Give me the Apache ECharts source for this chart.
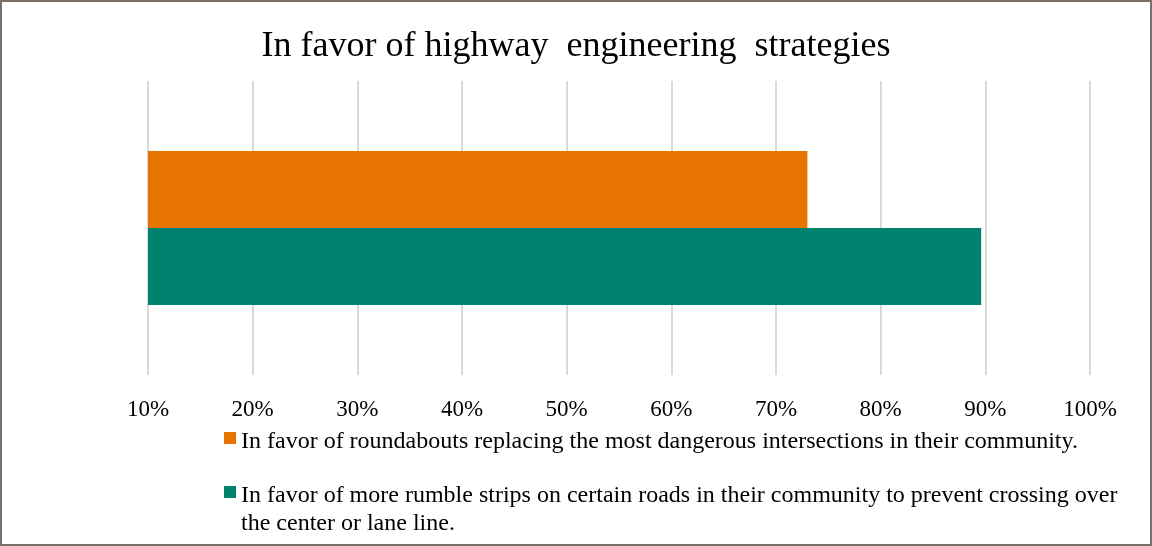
<!DOCTYPE html>
<html>
<head>
<meta charset="utf-8">
<script src="https://cdn.jsdelivr.net/npm/echarts@6/dist/echarts.min.js"></script>
<style>
body{margin:0;padding:0;background:#fff;}
#main{width:1152px;height:546px;box-sizing:border-box;border:2px solid #7b7067;}
</style>
</head>
<body>
<div id="main"></div>
<script>
var title = 'In favor of highway  engineering  strategies';
var categories = [''];
var seriesNames = [
	'In favor of roundabouts replacing the most dangerous intersections in their community.',
	'In favor of more rumble strips on certain roads in their community to prevent crossing over the center or lane line.'
];
var roundabouts = [73];
var rumbleStrips = [89.6];
var ticks = [10, 100, 10]; // min, max, step

var font = 'Liberation Serif';
// legend text: blank first line + two text lines, so the marker sits beside line one
var legendRich = {
	b: {fontFamily: font, fontSize: 24, lineHeight: 36},
	t: {fontFamily: font, fontSize: 24, lineHeight: 28, color: '#000'}
};
function legendText(name) {
	var lines = name.replace(' crossing over ', ' crossing over\n').split('\n');
	if (lines.length < 2) lines.push(' ');
	return '{b| }\n{t|' + lines[0] + '}\n{t|' + lines[1] + '}';
}

var el = echarts.init(document.getElementById('main'));
var elData = {
	backgroundColor: '#fff',
	title: {
		text: title,
		left: 'center',
		top: 22,
		textStyle: {fontFamily: font, fontSize: 36, fontWeight: 'normal', color: '#000'}
	},
	legend: [
		{
			data: [seriesNames[0]],
			left: 222, top: 396, padding: 0,
			itemWidth: 12, itemHeight: 12,
			icon: 'rect',
			formatter: legendText,
			textStyle: {fontFamily: font, fontSize: 24, color: '#000', rich: legendRich}
		},
		{
			data: [seriesNames[1]],
			left: 222, top: 450, padding: 0,
			itemWidth: 12, itemHeight: 12,
			icon: 'rect',
			formatter: legendText,
			textStyle: {fontFamily: font, fontSize: 24, color: '#000', rich: legendRich}
		}
	],
	grid: {left: 146, right: 60, top: 79, bottom: 169, containLabel: false},
	xAxis: {
		type: 'value',
		min: ticks[0], max: ticks[1], interval: ticks[2],
		axisLine: {show: false},
		axisTick: {show: false},
		axisLabel: {formatter: '{value}%', fontFamily: font, fontSize: 23, color: '#000', margin: 23},
		splitLine: {lineStyle: {color: '#d9d9d9', width: 2}}
	},
	yAxis: {
		type: 'category',
		data: categories,
		inverse: true,
		axisLine: {show: false},
		axisTick: {show: false},
		axisLabel: {show: false}
	},
	series: [
		{name: seriesNames[0], type: 'bar', data: roundabouts, barWidth: 77, barGap: '0%', itemStyle: {color: '#e77300'}},
		{name: seriesNames[1], type: 'bar', data: rumbleStrips, barWidth: 77, barGap: '0%', itemStyle: {color: '#00826f'}}
	],
	animation: false
};
el.setOption(elData);
</script>
</body>
</html>
